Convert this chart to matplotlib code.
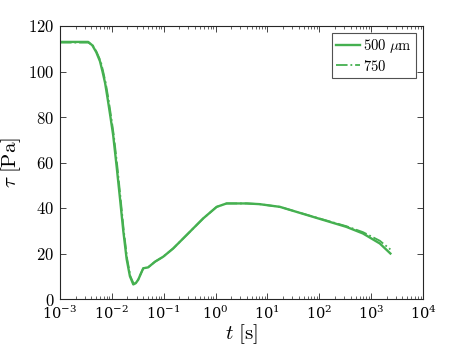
import matplotlib
matplotlib.use("Agg")
import matplotlib.pyplot as plt
from matplotlib.ticker import FuncFormatter, LogLocator

plt.rcParams['mathtext.fontset'] = 'cm'
plt.rcParams['font.family'] = 'serif'
plt.rcParams['font.serif'] = ['DejaVu Serif']

# values
t_500 = [1e-3, 2e-3, 3.5e-3, 4.2e-3, 5.0e-3, 5.9e-3, 6.6e-3, 7.4e-3, 8.3e-3,
         9.4e-3, 1.06e-2, 1.24e-2, 1.43e-2, 1.66e-2, 1.93e-2, 2.23e-2, 2.59e-2,
         2.9e-2, 3.23e-2, 3.6e-2, 4.03e-2, 5.0e-2, 6.8e-2, 9.8e-2, 0.152, 0.276,
         0.576, 1.05, 1.63, 4.0, 7.0, 17.4, 76, 333, 695, 1470, 2350]
tau_500 = [113, 113, 113, 111.5, 108.5, 104.5, 100, 95, 88,
           80, 72, 58, 44.5, 30, 17.5, 10, 6.4,
           7, 8.5, 11, 13.5, 13.9, 16.4, 18.6, 22.2, 28.1,
           35.4, 40.5, 42, 42, 41.7, 40.5, 36.1, 31.7, 28.8, 24.4, 20]
t_750 = [1e-3, 2e-3, 3.5e-3, 4.3e-3, 5.1e-3, 6.1e-3, 6.8e-3, 7.6e-3, 8.6e-3,
         9.7e-3, 1.09e-2, 1.28e-2, 1.47e-2, 1.7e-2, 1.98e-2, 2.28e-2, 2.65e-2,
         2.95e-2, 3.25e-2, 3.6e-2, 4.03e-2, 5.0e-2, 6.8e-2, 9.8e-2, 0.152, 0.276,
         0.576, 1.05, 1.63, 4.0, 7.0, 17.4, 76, 333, 695, 1470, 2350]
tau_750 = [112.7, 112.7, 112.7, 111.5, 108.5, 104.5, 100, 95, 88,
           80, 72, 58, 44.5, 30, 17.5, 10, 6.6,
           7.2, 8.7, 11, 13.5, 13.9, 16.4, 18.6, 22.2, 28.1,
           35.4, 40.5, 42, 42, 41.7, 40.5, 36.2, 32.0, 29.4, 25.6, 21.8]
labels = [r'$500\ \mu\mathrm{m}$', r'$750$']

green = '#45b050'

fig = plt.figure(figsize=(4.67, 3.5), dpi=100)
ax = fig.add_axes([60 / 467, 1 - 299 / 350, 363 / 467, 273 / 350])

ax.plot(t_500, tau_500, '-', color=green, lw=1.7, label=labels[0])
ax.plot(t_750, tau_750, '-.', color=green, lw=1.3, label=labels[1])

ax.set_xscale('log')
ax.set_xlim(1e-3, 1e4)
ax.set_ylim(0, 120)
ax.set_yticks([0, 20, 40, 60, 80, 100, 120])
ax.yaxis.set_major_formatter(FuncFormatter(lambda v, p: r'$%g$' % v))
ax.xaxis.set_major_locator(LogLocator(base=10, numticks=20))
ax.xaxis.set_minor_locator(LogLocator(base=10, subs=range(2, 10), numticks=20))

ax.tick_params(which='both', direction='in', top=True, right=True,
               color='#262626')
ax.tick_params(axis='y', labelsize=12, pad=4)
ax.tick_params(axis='x', labelsize=10.5, pad=4)
ax.tick_params(which='major', length=4, width=0.6)
ax.tick_params(which='minor', length=2, width=0.5)
for s in ax.spines.values():
    s.set_linewidth(0.8)
    s.set_color('#262626')

ax.set_xlabel(r'$t\ [\mathrm{s}]$', fontsize=15, labelpad=0)
ax.set_ylabel(r'$\tau\ [\mathrm{Pa}]$', fontsize=15, labelpad=4)

leg = ax.legend(loc='upper right', fontsize=10.5, frameon=True, fancybox=False,
                edgecolor='#262626', borderaxespad=0.45, handlelength=1.6,
                handletextpad=0.25, labelspacing=0.25, borderpad=0.3)
leg.get_frame().set_linewidth(0.8)

fig.savefig('out.png', dpi=100)
